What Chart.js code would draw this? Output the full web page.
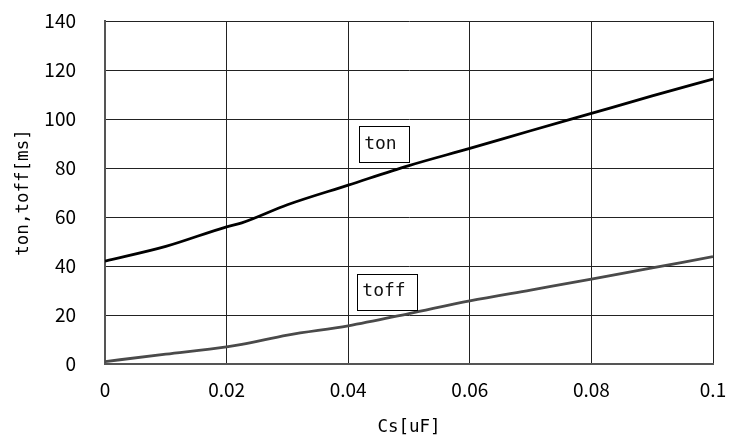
<!DOCTYPE html>
<html>
<head>
<meta charset="utf-8">
<script src="https://cdn.jsdelivr.net/npm/chart.js@4"></script>
<style>
  html, body { margin: 0; padding: 0; background: #fff; }
  #wrap { width: 730px; height: 439px; }
</style>
</head>
<body>
<div id="wrap"><canvas id="c"></canvas></div>
<script>
// 読み取った値
const csValues   = [0, 0.01, 0.02, 0.0225, 0.03, 0.04, 0.05, 0.06, 0.07, 0.08, 0.09, 0.1];
const tonValues  = [42, 48, 56, 57.6, 65, 73, 81, 88, 95.2, 102.3, 109.4, 116.3];
const toffValues = [1, 4, 7, 8, 11.8, 15.6, 20.6, 25.8, 30.2, 34.6, 39.2, 43.8];
const xTicks = [0, 0.02, 0.04, 0.06, 0.08, 0.1];
const yTicks = [0, 20, 40, 60, 80, 100, 120, 140];

// 線のラベル (データ座標)
const labelNames = ['ton', 'toff'];
const labelCs    = [0.0418, 0.0415];
const labelVal   = [89.8, 29.5];

const tickFont = { family: '"Noto Sans CJK JP", sans-serif', size: 19 };
const titleFont = { family: '"DejaVu Sans Mono", monospace', size: 17.5 };

const boxLabels = {
  id: 'boxLabels',
  afterDatasetsDraw(chart) {
    const ctx = chart.ctx;
    const xs = chart.scales.x, ys = chart.scales.y;
    ctx.save();
    ctx.font = '18px "DejaVu Sans Mono", monospace';
    ctx.textBaseline = 'middle';
    labelNames.forEach((name, i) => {
      const left = xs.getPixelForValue(labelCs[i]);
      const cy = ys.getPixelForValue(labelVal[i]);
      const w = ctx.measureText(name).width + 17;
      const h = 36;
      ctx.fillStyle = '#fff';
      ctx.fillRect(left, cy - h / 2, w, h);
      ctx.strokeStyle = '#000';
      ctx.lineWidth = 1;
      ctx.strokeRect(Math.round(left) + 0.5, Math.round(cy - h / 2) + 0.5, Math.round(w), h);
      ctx.fillStyle = '#111';
      ctx.fillText(name, left + 5, cy);
    });
    ctx.restore();
  }
};

new Chart(document.getElementById('c'), {
  type: 'line',
  data: {
    datasets: [
      {
        label: 'ton',
        data: csValues.map((x, i) => ({ x: x, y: tonValues[i] })),
        borderColor: '#000',
        borderWidth: 2.8,
        pointRadius: 0,
        cubicInterpolationMode: 'monotone'
      },
      {
        label: 'toff',
        data: csValues.map((x, i) => ({ x: x, y: toffValues[i] })),
        borderColor: '#4a4a4a',
        borderWidth: 2.8,
        pointRadius: 0,
        cubicInterpolationMode: 'monotone'
      }
    ]
  },
  options: {
    responsive: true,
    maintainAspectRatio: false,
    animation: false,
    layout: { padding: { left: 0, right: 17, top: 21, bottom: 0 } },
    plugins: { legend: { display: false }, tooltip: { enabled: false } },
    scales: {
      x: {
        type: 'linear',
        min: 0,
        max: 0.1,
        afterBuildTicks: (s) => { s.ticks = xTicks.map(v => ({ value: v })); },
        afterFit: (s) => { s.height = 75; s.paddingLeft = 0; s.paddingRight = 0; },
        grid: { color: '#222', lineWidth: 1, drawTicks: false },
        border: { color: '#555', width: 2 },
        ticks: {
          font: tickFont,
          color: '#000',
          padding: 14,
          maxRotation: 0,
          callback: (v) => String(v)
        },
        title: {
          display: true,
          text: 'Cs[uF]',
          font: titleFont,
          color: '#000',
          padding: { top: 0, bottom: 1 }
        }
      },
      y: {
        min: 0,
        max: 140,
        afterBuildTicks: (s) => { s.ticks = yTicks.map(v => ({ value: v })); },
        afterFit: (s) => { s.width = 105; s.paddingTop = 0; s.paddingBottom = 0; },
        grid: { color: '#222', lineWidth: 1, drawTicks: false },
        border: { color: '#555', width: 2 },
        ticks: { font: tickFont, color: '#000', padding: 29 },
        title: {
          display: true,
          text: 'ton,toff[ms]',
          font: titleFont,
          color: '#000',
          padding: { top: 12.5, bottom: 0 }
        }
      }
    }
  },
  plugins: [boxLabels]
});
</script>
</body>
</html>
